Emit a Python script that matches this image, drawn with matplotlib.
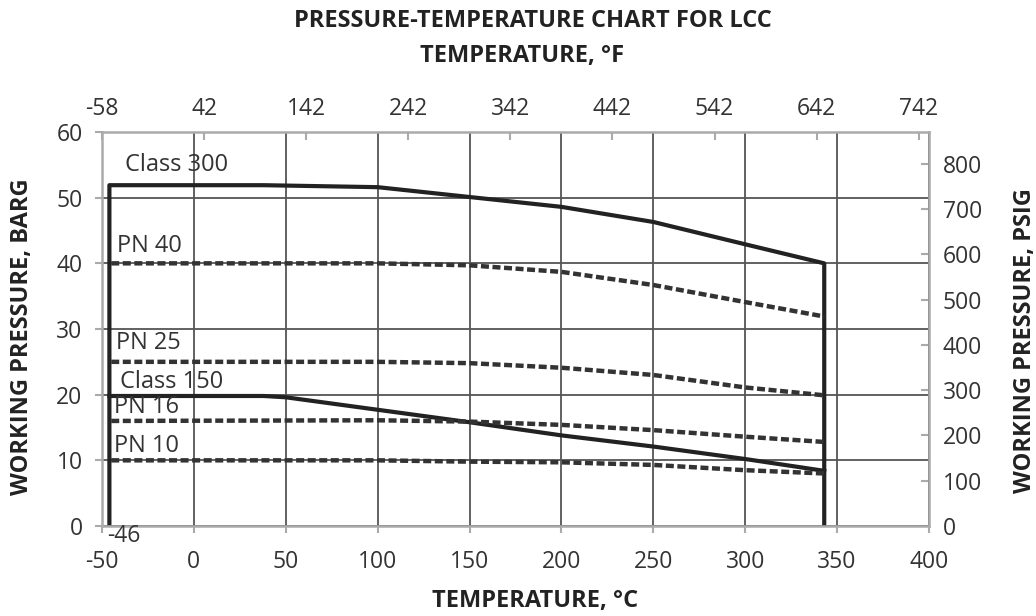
import numpy as np
import matplotlib.pyplot as plt

plt.rcParams['font.family'] = ['Open Sans', 'DejaVu Sans']
plt.rcParams['axes.unicode_minus'] = False

# ---------------------------------------------------------------
# data (temperature in deg C, pressure in barg)
class300_t = [-46, -46, 38, 100, 150, 200, 250, 300, 343, 343]
class300_p = [0, 51.9, 51.9, 51.6, 50.1, 48.6, 46.3, 42.9, 40.0, 0]
class150_t = [-46, 38, 50, 100, 150, 200, 250, 300, 343]
class150_p = [19.8, 19.8, 19.6, 17.7, 15.8, 13.8, 12.1, 10.2, 8.4]

pn_t = [-45, 100, 150, 200, 250, 300, 343]
pn40_p = [40, 40, 39.7, 38.7, 36.7, 34.1, 31.9]
pn25_p = [25, 25, 24.8, 24.1, 23.0, 21.1, 19.9]
pn16_p = [16, 16.1, 15.9, 15.4, 14.6, 13.6, 12.8]
pn10_p = [10, 10, 9.8, 9.7, 9.3, 8.5, 8.0]

labels = ['Class 300', 'PN 40', 'PN 25', 'Class 150', 'PN 16', 'PN 10']
label_x = [-37.5, -42, -42.5, -40, -43.5, -43.5]
label_y = [55.0, 42.6, 27.9, 21.9, 18.1, 12.2]

c_ticks = np.arange(-50, 401, 50)
f_ticks = np.arange(-58, 743, 100)
psi_ticks = np.arange(0, 801, 100)
BAR2PSI = 14.5038
#---------------------------------------------------------------
fig = plt.figure(figsize=(10.36, 6.16), dpi=100)
ax = fig.add_axes([0.0985, 0.1461, 0.7982, 0.6396])

ax.set_xlim(-50, 400)
ax.set_ylim(0, 60)
ax.set_xticks(c_ticks)
ax.set_yticks(np.arange(0, 61, 10))
ax.grid(True, color='#555555', linewidth=1.3)
ax.set_axisbelow(True)
for s in ax.spines.values():
    s.set_color('#aaaaaa')
    s.set_linewidth(1.8)
ax.tick_params(axis='both', direction='out', length=5, width=1.5,
               color='#aaaaaa', labelsize=16.5, labelcolor='#333333')
ax.tick_params(axis='x', pad=12)
ax.tick_params(axis='y', pad=9)

ax.plot(class300_t, class300_p, color='#222222', linewidth=3)
ax.plot(class150_t, class150_p, color='#222222', linewidth=3)
for p in [pn40_p, pn25_p, pn16_p, pn10_p]:
    ax.plot(pn_t, p, color='#333333', linewidth=3.2, dashes=(1.8, 0.8))

for lab, lx, ly in zip(labels, label_x, label_y):
    ax.text(lx, ly, lab, fontsize=17, color='#333333', va='center', ha='left')
ax.text(-47.5, -1.5, '-46', fontsize=16.5, color='#333333', va='center',
        ha='left', clip_on=False)

# top axis, deg F
top = ax.secondary_xaxis('top', functions=(lambda c: c*9/5 + 32,
                                           lambda f: (f - 32)*5/9))
top.set_xticks(f_ticks)
top.tick_params(direction='in', length=6, width=1.5, color='#aaaaaa',
                labelsize=16.5, labelcolor='#333333', pad=8)
top.spines['top'].set_visible(False)

# right axis, psig
right = ax.secondary_yaxis('right', functions=(lambda b: b*BAR2PSI,
                                               lambda p: p/BAR2PSI))
right.set_yticks(psi_ticks)
right.tick_params(direction='in', length=6, width=1.5, color='#aaaaaa',
                  labelsize=16.5, labelcolor='#333333', pad=10)
right.spines['right'].set_visible(False)

fig.text(0.514, 0.966, 'PRESSURE-TEMPERATURE CHART FOR LCC', fontsize=17,
         fontweight='bold', color='#222222', ha='center', va='center')
fig.text(0.504, 0.909, 'TEMPERATURE, °F', fontsize=17, fontweight='bold',
         color='#222222', ha='center', va='center')
fig.text(0.516, 0.024, 'TEMPERATURE, °C', fontsize=17, fontweight='bold',
         color='#222222', ha='center', va='center')
fig.text(0.021, 0.453, 'WORKING PRESSURE, BARG', fontsize=17,
         fontweight='bold', color='#222222', ha='center', va='center',
         rotation=90)
fig.text(0.989, 0.447, 'WORKING PRESSURE, PSIG', fontsize=17,
         fontweight='bold', color='#222222', ha='center', va='center',
         rotation=90)

fig.savefig('out.png', dpi=100)
